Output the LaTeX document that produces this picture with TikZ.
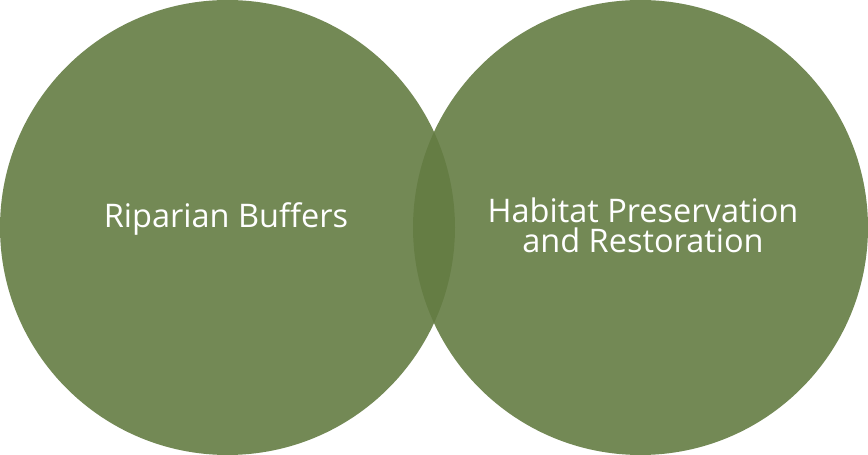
\documentclass[tikz,border=0pt]{standalone}
\usepackage{fontspec}
\setsansfont{Open Sans}
\definecolor{vennolive}{RGB}{100, 124, 67}
\usetikzlibrary{positioning}

\tikzset{
  venn/.style={circle, fill=vennolive, fill opacity=0.9,
    minimum size=455pt, inner sep=0pt, outer sep=0pt},
  vennlabel/.style={text=white, align=center,
    font=\sffamily\fontsize{32.5}{30}\selectfont}
}

\begin{document}
\begin{tikzpicture}[x=1pt, y=1pt]
  \useasboundingbox (0, 0) rectangle (868, 455);

  % Left circle
  \node[venn] (riparian) at (227.5, 227.5) {};
  \node[vennlabel] (riparianlabel) at (226, 236) {Riparian Buffers};

  % Right circle
  \node[venn] (habitat) at (640.5, 227.5) {};
  \node[vennlabel] (habitatlabel) at (643, 230) {Habitat Preservation\\and Restoration};
\end{tikzpicture}
\end{document}
